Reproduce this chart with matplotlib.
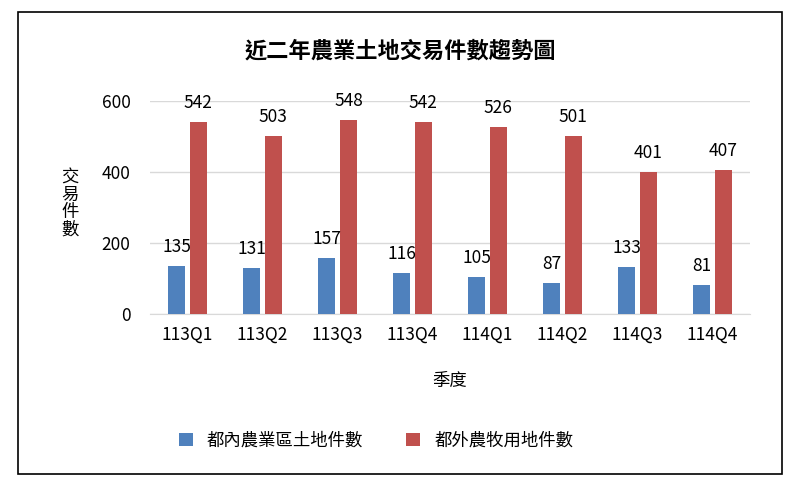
import matplotlib
matplotlib.use("Agg")
import matplotlib.pyplot as plt
import numpy as np
from matplotlib.patches import Rectangle

plt.rcParams['font.family'] = ['Noto Sans CJK TC', 'DejaVu Sans']

quarters = ["113Q1","113Q2","113Q3","113Q4","114Q1","114Q2","114Q3","114Q4"]
inner = [135,131,157,116,105,87,133,81]
outer = [542,503,548,542,526,501,401,407]

fig = plt.figure(figsize=(8,4.84), dpi=100)
fig.patches.append(Rectangle((0.023,0.021),0.955,0.955, transform=fig.transFigure,
                             fill=False, edgecolor='black', linewidth=1.2))
ax = fig.add_axes([0.1875,0.351,0.75,0.44])
x = np.arange(len(quarters))
w = 0.23
b1 = ax.bar(x-0.145, inner, w, color='#4F81BD', label='都內農業區土地件數', zorder=3)
b2 = ax.bar(x+0.145, outer, w, color='#C0504D', label='都外農牧用地件數', zorder=3)
for rect, v in zip(list(b1)+list(b2), inner+outer):
    ax.text(rect.get_x()+rect.get_width()/2, v+28, str(v), ha='center', va='bottom', fontsize=12.5)
ax.set_ylim(0,600)
ax.set_xlim(-0.5,7.5)
ax.set_yticks([0,200,400,600])
ax.yaxis.grid(True, color='#D9D9D9', linewidth=1, zorder=0)
for s in ['top','right','left']:
    ax.spines[s].set_visible(False)
ax.spines['bottom'].set_color('#D9D9D9')
ax.tick_params(length=0, labelsize=12.5)
ax.set_xticks(x)
ax.set_xticklabels(quarters)
ax.tick_params(axis='x', pad=8)
ax.tick_params(axis='y', pad=14)
fig.text(0.5,0.895,'近二年農業土地交易件數趨勢圖', ha='center', va='center', fontsize=16, fontweight='bold')
fig.text(0.088,0.58,'交\n易\n件\n數', ha='center', va='center', fontsize=12.5, linespacing=0.95)
fig.text(0.5625,0.213,'季度', ha='center', va='center', fontsize=12.5)
fig.legend(handles=[b1,b2], loc='center', bbox_to_anchor=(0.47,0.09), ncol=2, frameon=False,
           fontsize=12.5, handlelength=0.8, handleheight=0.8, columnspacing=2.5)
fig.savefig('out.png', dpi=100)
